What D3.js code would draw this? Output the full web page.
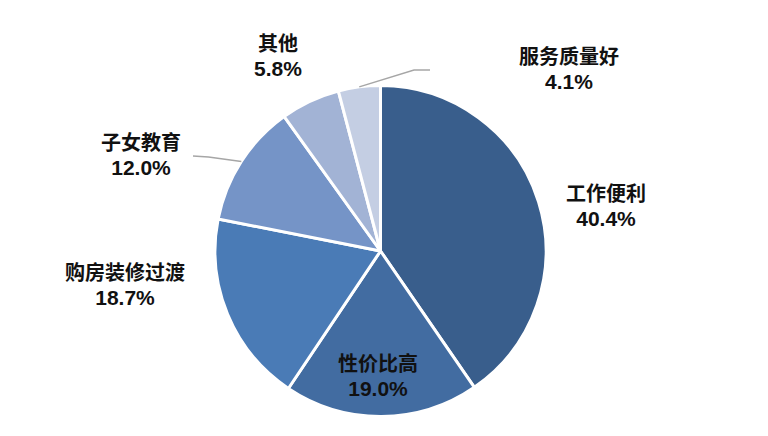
<!DOCTYPE html>
<html>
<head>
<meta charset="utf-8">
<script src="https://cdn.jsdelivr.net/npm/d3@7"></script>
<style>
  html, body { margin: 0; padding: 0; background: #fff; }
  svg { display: block; }
</style>
</head>
<body>
<svg id="chart" width="768" height="436"></svg>
<script>
// ---- data ----
const categories = ["工作便利", "性价比高", "购房装修过渡", "子女教育", "其他", "服务质量好"];
const values = [40.4, 19.0, 18.7, 12.0, 5.8, 4.1];
const colors = ["#395e8c", "#426ca1", "#4a7bb6", "#7594c7", "#a2b3d5", "#c4cee3"];

// ---- layout (label centers relative to pie centre, leader elbows) ----
const labelOffsets = [
  [225.5, -57], [-2.5, 113], [-255.5, 22], [-239.5, -108], [-102.5, -207], [188.5, -194]
];
const leaders = {
  3: [[-172, -94], [-187.5, -95]],
  5: [[33.5, -181], [49.5, -181]]
};

const W = 768, H = 436;
const cx = 380.5, cy = 251, R = 165.5;

const svg = d3.select("#chart");
const g = svg.append("g").attr("transform", `translate(${cx},${cy})`);

const pie = d3.pie().sort(null).value(d => d.v);
const data = categories.map((c, i) => ({ c, v: values[i], i }));
const arcs = pie(data);
const arc = d3.arc().innerRadius(0).outerRadius(R);
const edgeArc = d3.arc().innerRadius(R).outerRadius(R);

g.selectAll("path.slice").data(arcs).join("path")
  .attr("class", "slice")
  .attr("d", arc)
  .attr("fill", d => colors[d.data.i])
  .attr("stroke", "#fff")
  .attr("stroke-width", 3)
  .attr("stroke-linejoin", "round");

// leader lines
Object.keys(leaders).forEach(k => {
  const a = arcs[+k];
  const start = edgeArc.centroid(a);
  const pts = [start].concat(leaders[k]);
  g.append("path")
    .attr("d", d3.line()(pts))
    .attr("fill", "none")
    .attr("stroke", "#a6a6a6")
    .attr("stroke-width", 1.5);
});

// labels: category name (CJK font) and percentage (compact Latin font)
arcs.forEach((a, i) => {
  const [ox, oy] = labelOffsets[i];
  const lg = g.append("g").attr("transform", `translate(${ox},${oy})`);
  lg.append("text")
    .attr("y", 7)
    .attr("text-anchor", "middle")
    .attr("font-family", "'Noto Sans CJK SC', sans-serif")
    .attr("font-weight", "bold")
    .attr("font-size", 20)
    .attr("fill", "#111")
    .text(a.data.c);
  lg.append("text")
    .attr("y", 32)
    .attr("text-anchor", "middle")
    .attr("font-family", "'Liberation Sans', Arial, sans-serif")
    .attr("font-weight", "bold")
    .attr("font-size", 21)
    .attr("fill", "#111")
    .text(d3.format(".1f")(a.data.v) + "%");
});
</script>
</body>
</html>
